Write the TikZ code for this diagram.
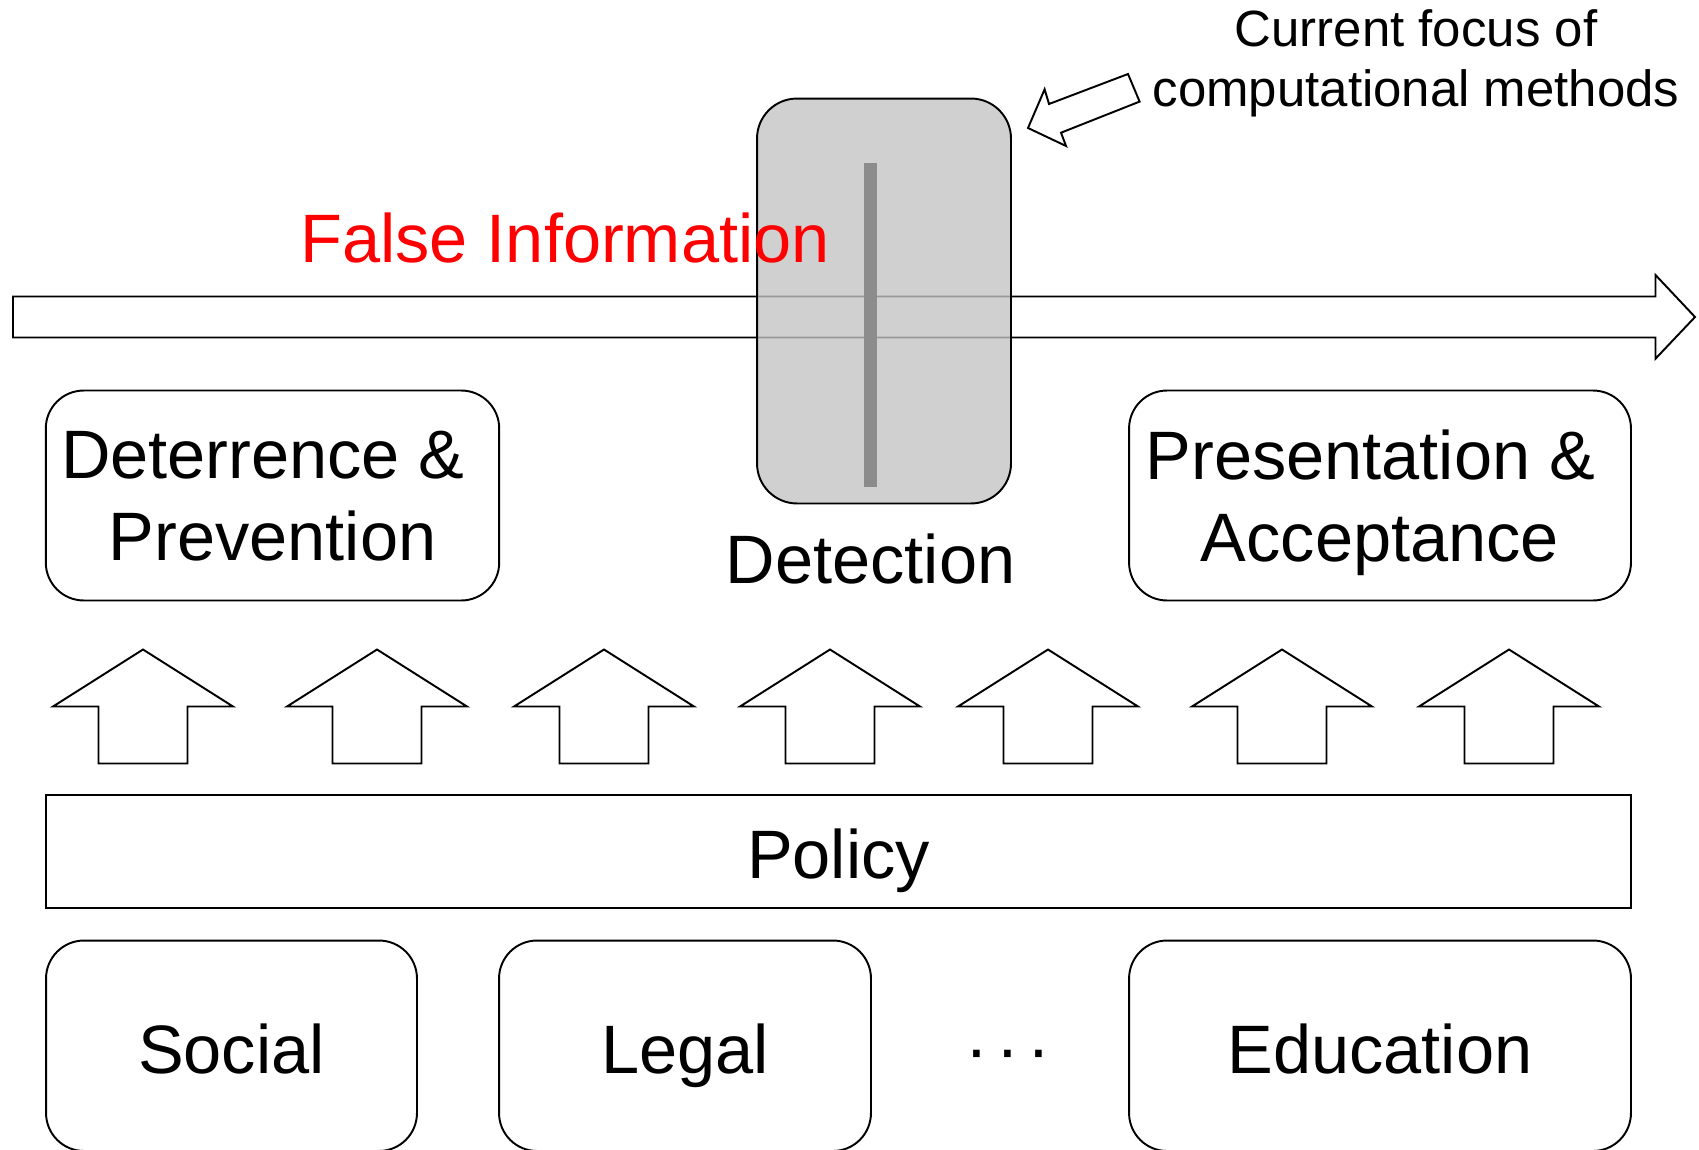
\documentclass[tikz,border=0pt]{standalone}
\usepackage{fontspec}
\setmainfont{Liberation Sans}
\usepackage{xcolor}
\definecolor{focusgray}{RGB}{195,195,195}
\definecolor{bargray}{RGB}{140,140,140}
\definecolor{falsered}{RGB}{255,0,0}
\tikzset{
  roundbox/.style={draw, line width=1.1pt, rounded corners=0.76cm, font=\fontsize{39}{46.8}\selectfont, align=center},
  onelabel/.style={text height=31.2pt, text depth=0pt},
  blockarrow/.style={draw, line width=1.1pt, fill=white}
}

\begin{document}
\begin{tikzpicture}[x=0.02cm, y=-0.02cm]
\useasboundingbox (0,0) rectangle (1699,1149);
% timeline
\draw[blockarrow] (13,296.5) -- (1655.5,296.5) -- (1655.5,275) -- (1695,317) -- (1655.5,358.7) -- (1655.5,337.5) -- (13,337.5) -- cycle;
% detection
\node[draw, line width=1.1pt, rounded corners=0.8cm, fill=focusgray, fill opacity=0.78, minimum width=5.08cm, minimum height=8.1cm] (focus) at (884,301) {};
\node[fill=bargray, inner sep=0pt, minimum width=0.26cm, minimum height=6.48cm] (bar) at (870.5,325) {};
\node[font=\fontsize{39}{46.8}\selectfont, anchor=base, inner sep=0pt] (detection) at (870.5,583) {Detection};
\node[text=falsered, font=\fontsize{39}{46.8}\selectfont, anchor=base west, inner sep=0pt] (falseinfo) at (300,262.5) {False Information};
% focus note
\node[font=\fontsize{29}{34.1}\selectfont, align=center, anchor=north, inner sep=0pt] (focusnote) at (1416,9.3) {Current focus of\\computational methods};
\draw[blockarrow] (1028,128) -- (1044.6,89.3) -- (1049,104) -- (1128,74) -- (1139.6,101.6) -- (1061,132.7) -- (1066,146) -- cycle;
% stages
\node[roundbox, text depth=0pt, minimum width=9.07cm, minimum height=4.2cm] (deter) at (272.5,495.5) {Deterrence \&\hspace*{0.28em}\\Prevention};
\node[roundbox, text depth=0pt, minimum width=10.04cm, minimum height=4.2cm] (present) at (1380,495.5) {Presentation \&\hspace*{0.28em}\\Acceptance};
% up arrows
\foreach \ax in {143,377,604,830,1048,1282,1509}
  \draw[blockarrow] (\ax,649.5) -- (\ax+90,706.5) -- (\ax+44.5,706.5) -- (\ax+44.5,763.5) -- (\ax-44.5,763.5) -- (\ax-44.5,706.5) -- (\ax-90,706.5) -- cycle;
% policy
\node[draw, line width=1.1pt, font=\fontsize{39}{46.8}\selectfont, onelabel, minimum width=31.7cm, minimum height=2.26cm] (policy) at (838.5,851.5) {Policy};
\node[roundbox, onelabel, minimum width=7.42cm, minimum height=4.21cm] (social) at (231.5,1045.75) {Social};
\node[roundbox, onelabel, minimum width=7.44cm, minimum height=4.21cm] (legal) at (685,1045.75) {Legal};
\node[roundbox, onelabel, minimum width=10.04cm, minimum height=4.21cm] (education) at (1380,1045.75) {Education};
\node[font=\fontsize{39}{46.8}\selectfont, anchor=base, inner sep=0pt] (dots) at (1008,1072) {·\kern4.7pt·\kern4.7pt·};
\end{tikzpicture}
\end{document}
